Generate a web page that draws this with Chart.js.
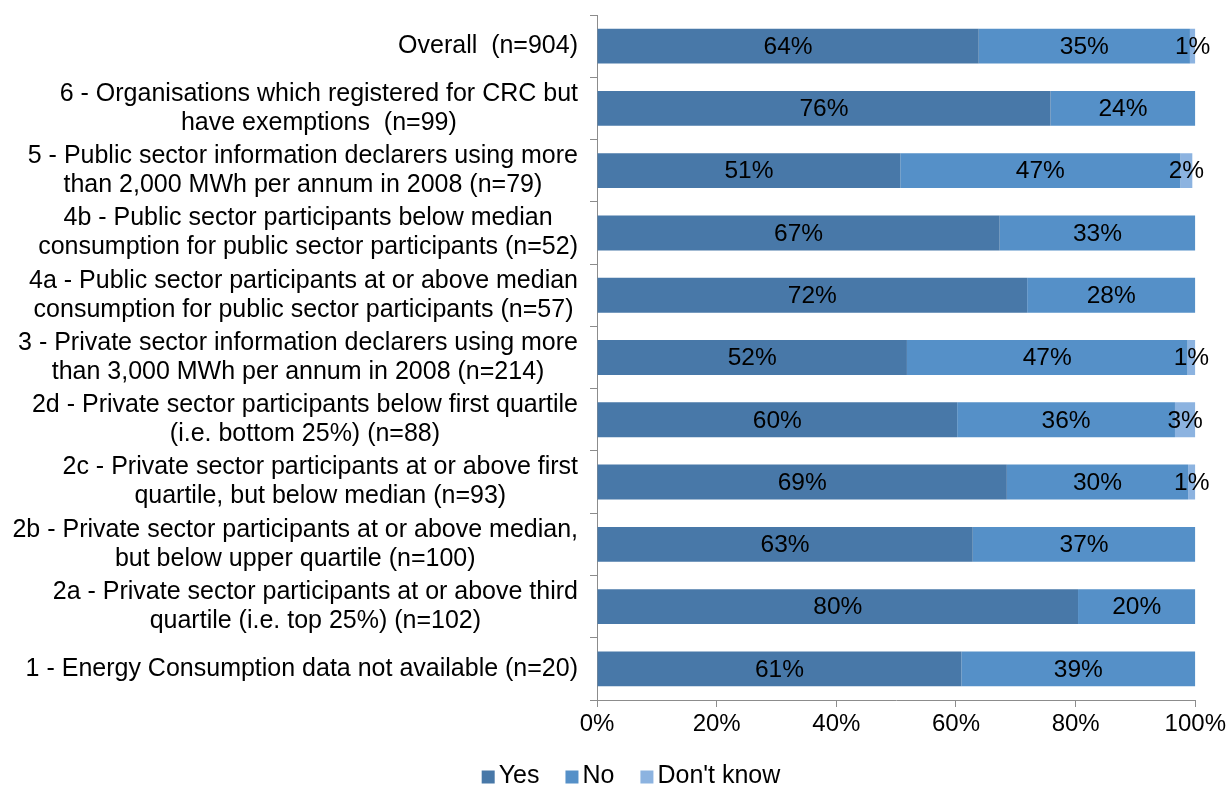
<!DOCTYPE html>
<html>
<head>
<meta charset="utf-8">
<title>CRC survey chart</title>
<script src="https://cdn.jsdelivr.net/npm/chart.js@4/dist/chart.umd.min.js"></script>
<style>
  body { margin: 0; background: #fff; }
  #wrap { width: 1229px; height: 787px; position: relative; }
</style>
</head>
<body>
<div id="wrap"><canvas id="chart"></canvas></div>
<script>
const categories = [
  'Overall  (n=904)',
  ['6 - Organisations which registered for CRC but', 'have exemptions  (n=99)'],
  ['5 - Public sector information declarers using more', 'than 2,000 MWh per annum in 2008 (n=79)'],
  ['4b - Public sector participants below median', 'consumption for public sector participants (n=52)'],
  ['4a - Public sector participants at or above median', 'consumption for public sector participants (n=57)'],
  ['3 - Private sector information declarers using more', 'than 3,000 MWh per annum in 2008 (n=214)'],
  ['2d - Private sector participants below first quartile', '(i.e. bottom 25%) (n=88)'],
  ['2c - Private sector participants at or above first', 'quartile, but below median (n=93)'],
  ['2b - Private sector participants at or above median,', 'but below upper quartile (n=100)'],
  ['2a - Private sector participants at or above third', 'quartile (i.e. top 25%) (n=102)'],
  '1 - Energy Consumption data not available (n=20)'
];
const yesValues = [63.8, 75.8, 50.7, 67.3, 71.9, 51.8, 60.2, 68.5, 62.8, 80.4, 60.9];
const noValues = [35.3, 24.2, 46.8, 32.7, 28.1, 46.9, 36.4, 30.3, 37.2, 19.6, 39.1];
const dontKnowValues = [0.9, 0, 2.0, 0, 0, 1.3, 3.4, 1.2, 0, 0, 0];
const xTicks = [0, 20, 40, 60, 80, 100];

const FONT = "'Liberation Sans', Arial, sans-serif";
const AXIS_COLOR = '#8c8c8c';

// draws the rounded % inside each bar segment
const valueLabels = {
  id: 'valueLabels',
  afterDatasetsDraw(chart) {
    const ctx = chart.ctx;
    ctx.save();
    ctx.font = '24.5px ' + FONT;
    ctx.fillStyle = '#000';
    ctx.textAlign = 'center';
    ctx.textBaseline = 'middle';
    chart.data.datasets.forEach((ds, i) => {
      chart.getDatasetMeta(i).data.forEach((bar, j) => {
        const v = ds.data[j];
        if (!v) return;
        const p = bar.getCenterPoint();
        ctx.fillText(Math.round(v) + '%', p.x, p.y + 1);
      });
    });
    ctx.restore();
  }
};

// category labels: block right-aligned to the axis, lines centred in the block
const categoryLabels = {
  id: 'categoryLabels',
  afterDraw(chart) {
    const ctx = chart.ctx;
    const y = chart.scales.y;
    const right = y.right - 19;
    const lineH = 29;
    ctx.save();
    ctx.font = '25px ' + FONT;
    ctx.fillStyle = '#000';
    ctx.textAlign = 'center';
    ctx.textBaseline = 'middle';
    categories.forEach((label, i) => {
      const lines = Array.isArray(label) ? label : [label];
      const w = Math.max(...lines.map((l) => ctx.measureText(l).width));
      const cx = right - w / 2;
      const cy = y.getPixelForValue(i);
      const top = cy - (lines.length - 1) * lineH / 2;
      lines.forEach((l, k) => ctx.fillText(l, cx, top + k * lineH));
    });
    ctx.restore();
  }
};

// legend drawn close to the bottom edge, with small box-to-text gap
const bottomLegend = {
  id: 'bottomLegend',
  afterDraw(chart) {
    const ctx = chart.ctx;
    const box = 13, gap = 4, itemGap = 26;
    const cy = 776;
    ctx.save();
    ctx.font = '25px ' + FONT;
    ctx.textBaseline = 'middle';
    ctx.textAlign = 'left';
    const items = chart.data.datasets.map((ds) => ({
      text: ds.label,
      color: ds.backgroundColor,
      w: box + gap + ctx.measureText(ds.label).width
    }));
    const total = items.reduce((s, it) => s + it.w, 0) + itemGap * (items.length - 1);
    let x = 631 - total / 2;
    items.forEach((it) => {
      ctx.fillStyle = it.color;
      ctx.fillRect(x, cy - box / 2 + 1, box, box);
      ctx.fillStyle = '#000';
      ctx.fillText(it.text, x + box + gap, cy);
      x += it.w + itemGap;
    });
    ctx.restore();
  }
};

const ctx = document.getElementById('chart').getContext('2d');
new Chart(ctx, {
  type: 'bar',
  data: {
    labels: categories,
    datasets: [
      { label: 'Yes', data: yesValues, backgroundColor: '#4878a8' },
      { label: 'No', data: noValues, backgroundColor: '#5590c8' },
      { label: "Don't know", data: dontKnowValues, backgroundColor: '#8cb3e0' }
    ]
  },
  options: {
    indexAxis: 'y',
    responsive: true,
    maintainAspectRatio: false,
    animation: false,
    datasets: {
      bar: { barPercentage: 0.56, categoryPercentage: 1, borderWidth: 0 }
    },
    layout: { padding: { top: 15, right: 29, bottom: 47, left: 0 } },
    plugins: {
      tooltip: { enabled: false },
      legend: { display: false }
    },
    scales: {
      x: {
        stacked: true,
        min: 0,
        max: 100,
        afterBuildTicks: (axis) => { axis.ticks = xTicks.map((v) => ({ value: v })); },
        ticks: {
          color: '#000',
          padding: 3,
          font: { family: FONT, size: 24 },
          callback: (v) => v + '%'
        },
        grid: { drawOnChartArea: false, tickLength: 7, color: AXIS_COLOR },
        border: { color: AXIS_COLOR },
        afterFit: (axis) => { axis.height = 40; }
      },
      y: {
        stacked: true,
        ticks: { display: false },
        grid: { drawOnChartArea: false, offset: true, tickLength: 7, color: AXIS_COLOR },
        border: { color: AXIS_COLOR },
        afterFit: (axis) => { axis.width = 597; }
      }
    }
  },
  plugins: [valueLabels, categoryLabels, bottomLegend]
});
</script>
</body>
</html>
